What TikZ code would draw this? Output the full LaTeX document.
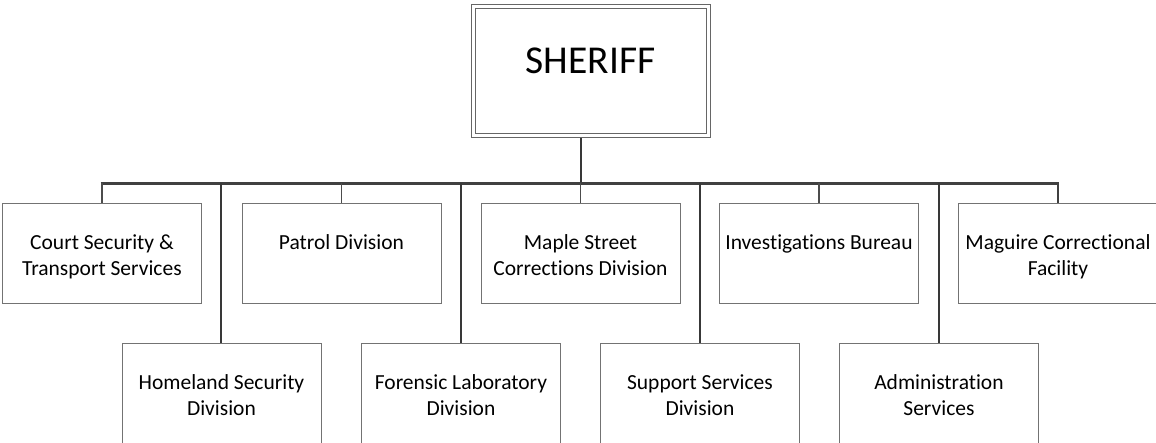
\documentclass[tikz,border=0pt]{standalone}
\usepackage{fontspec}
\setmainfont{Carlito}[Ligatures=NoCommon]
\newcommand\stacklines[1]{\begin{tabular}[t]{@{}c@{}}#1\end{tabular}}
\begin{document}
\begin{tikzpicture}[x=1pt,y=-1pt,
  unit box/.style={draw=black!55, line width=0.9pt, anchor=north west,
    minimum width=199pt, minimum height=100pt, inner sep=0pt},
  low box/.style={unit box, minimum height=115pt},
  box text/.style={anchor=base, inner sep=0pt,
    font=\fontsize{21.5}{26}\selectfont},
  link/.style={draw=black!78, line width=2pt},
  bus/.style={draw=black!75, line width=2.5pt},
  thin link/.style={draw=black!70, line width=1.6pt}]
\useasboundingbox (0,0) rectangle (1156,442);
\clip (0,0) rectangle (1156,442);

% head of the organisation: double framed box
\node[draw=black!60, line width=0.9pt, anchor=north west,
  minimum width=239pt, minimum height=133pt, inner sep=0pt] (sheriff) at (471,4) {};
\draw[black!60, line width=0.9pt] ([shift={(4,4)}]sheriff.north west) rectangle ([shift={(-4,-4)}]sheriff.south east);
\node[anchor=base, inner sep=0pt, font=\fontsize{39.5}{44}\selectfont] (sheriffname) at (590.5,73) {SHERIFF};

% first row of divisions
\node[unit box] (court) at (2,203) {};
\node[unit box] (patrol) at (241.5,203) {};
\node[unit box] (maple) at (480.5,203) {};
\node[unit box] (invest) at (719,203) {};
\node[unit box] (maguire) at (958,203) {};

% second row of divisions
\node[low box] (homeland) at (121.5,343) {};
\node[low box] (forensic) at (361,343) {};
\node[low box] (support) at (600,343) {};
\node[low box] (admin) at (839,343) {};

% labels
\node[box text] (courtT) at ([yshift=-46]court.north) {\stacklines{Court Security \&\\Transport Services}};
\node[box text] (patrolT) at ([yshift=-46]patrol.north) {Patrol Division};
\node[box text] (mapleT) at ([yshift=-46]maple.north) {\stacklines{Maple Street\\Corrections Division}};
\node[box text] (investT) at ([yshift=-46]invest.north) {Investigations Bureau};
\node[box text] (maguireT) at ([yshift=-46]maguire.north) {\stacklines{Maguire Correctional\\Facility}};
\node[box text] (homelandT) at ([yshift=-46]homeland.north) {\stacklines{Homeland Security\\Division}};
\node[box text] (forensicT) at ([yshift=-46]forensic.north) {\stacklines{Forensic Laboratory\\Division}};
\node[box text] (supportT) at ([yshift=-46]support.north) {\stacklines{Support Services\\Division}};
\node[box text] (adminT) at ([yshift=-46]admin.north) {\stacklines{Administration\\Services}};

% connectors
\coordinate (busL) at (court.north |- 0,183.3);
\coordinate (trunk) at (580.5,0);
\draw[link] (trunk |- sheriff.south) -- (trunk |- busL);
\draw[bus] ([xshift=-1.25pt]busL) -- (maguire.north |- busL) -- ([yshift=0.5]maguire.north);
\draw[thin link] (busL) -- (court.north);
\draw[thin link] (patrol.north |- busL) -- (patrol.north);
\draw[thin link] (maple.north |- busL) -- (maple.north);
\draw[thin link] (invest.north |- busL) -- (invest.north);
\draw[link] (homeland.north |- busL) -- (homeland.north);
\draw[link] (forensic.north |- busL) -- (forensic.north);
\draw[link] (support.north |- busL) -- (support.north);
\draw[link] (admin.north |- busL) -- (admin.north);
\end{tikzpicture}
\end{document}
